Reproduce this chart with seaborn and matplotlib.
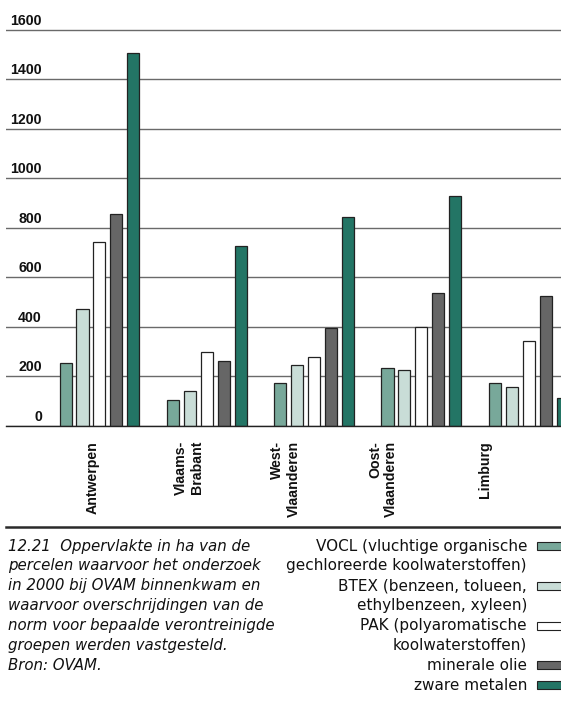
import matplotlib
matplotlib.use("Agg")
import matplotlib.pyplot as plt
import seaborn as sns
import pandas as pd
from matplotlib.transforms import blended_transform_factory, offset_copy
from matplotlib.patches import Rectangle
from matplotlib.lines import Line2D

# ---------------- data ----------------
regions = ["Antwerpen", "Vlaams-Brabant", "West-Vlaanderen", "Oost-Vlaanderen", "Limburg"]
region_labels = ["Antwerpen", "Vlaams-\nBrabant", "West-\nVlaanderen", "Oost-\nVlaanderen", "Limburg"]
vocl = [253, 105, 175, 233, 175]
btex = [471, 140, 245, 226, 159]
pak = [743, 298, 278, 401, 342]
minerale_olie = [855, 263, 397, 536, 525]
zware_metalen = [1505, 727, 843, 929, 112]
series_names = ["VOCL", "BTEX", "PAK", "minerale olie", "zware metalen"]
y_ticks = [0, 200, 400, 600, 800, 1000, 1200, 1400, 1600]
y_tick_labels = ["0", "200", "400", "600", "800", "1000", "1200", "1400", "1600"]
legend_texts = [
    ["VOCL (vluchtige organische", "gechloreerde koolwaterstoffen)"],
    ["BTEX (benzeen, tolueen,", "ethylbenzeen, xyleen)"],
    ["PAK (polyaromatische", "koolwaterstoffen)"],
    ["minerale olie"],
    ["zware metalen"],
]
caption_lines = [
    "12.21  Oppervlakte in ha van de",
    "percelen waarvoor het onderzoek",
    "in 2000 bij OVAM binnenkwam en",
    "waarvoor overschrijdingen van de",
    "norm voor bepaalde verontreinigde",
    "groepen werden vastgesteld.",
    "Bron: OVAM.",
]

# ---------------- styles ----------------
colors = ["#78a89a", "#c9ddd7", "#ffffff", "#666666", "#237565"]
edge = "#222222"
label_x = [-0.065, 0.834, 1.733, 2.642, 3.592]

series_values = [vocl, btex, pak, minerale_olie, zware_metalen]
rows = []
for name, vals in zip(series_names, series_values):
    for r, v in zip(regions, vals):
        rows.append({"region": r, "series": name, "value": v})
df = pd.DataFrame(rows)

plt.rcParams["font.family"] = ["Liberation Sans", "DejaVu Sans"]

W, H = 561, 713
fig = plt.figure(figsize=(W / 100, H / 100), dpi=100)


def fx(px):
    return px / W


def fy(py):
    return 1 - py / H


ax = fig.add_axes([fx(6), fy(426), 1 - fx(6), fy(27.5) - fy(426)])
sns.barplot(data=df, x="region", y="value", hue="series", order=regions,
            hue_order=series_names, palette=colors, saturation=1,
            width=0.79, gap=0.29, edgecolor=edge, linewidth=0.9,
            errorbar=None, legend=False, ax=ax)

ax.set_xlim(-0.871, 4.301)
ax.set_ylim(0, 1610)
ax.set_yticks(y_ticks)
ax.yaxis.grid(True, color="#6a6a6a", linewidth=1.0)
ax.xaxis.grid(False)
ax.set_axisbelow(True)
ax.tick_params(axis="y", length=0, labelleft=False)
for s in ["top", "right", "left"]:
    ax.spines[s].set_visible(False)
ax.spines["bottom"].set_color("#222222")
ax.spines["bottom"].set_linewidth(1.0)
ax.set_xlabel("")
ax.set_ylabel("")

trans = offset_copy(blended_transform_factory(ax.transAxes, ax.transData),
                    fig=fig, x=0, y=5, units="dots")
for v, lab in zip(y_ticks, y_tick_labels):
    ax.text((42 - 6) / 555, v, lab, ha="right", va="baseline", transform=trans,
            fontweight="bold", fontsize=10.2, color="#111111", clip_on=False)

ax.set_xticks(label_x, region_labels, rotation=90, fontweight="bold", fontsize=10.2,
              va="top", ha="center", multialignment="right", color="#111111")
ax.tick_params(axis="x", length=0, pad=10.8)

fig.add_artist(Line2D([fx(6), 1], [fy(527), fy(527)], color="#2a2a2a", lw=1.8,
                      transform=fig.transFigure))

line_y0, line_dy = 546, 19.9
for k, line in enumerate(caption_lines):
    fig.text(fx(8), fy(line_y0 + line_dy * k), line, ha="left", va="center",
             fontstyle="italic", fontsize=10.8, family="DejaVu Sans", color="#111111")

k = 0
for color, lines in zip(colors, legend_texts):
    yc = line_y0 + line_dy * k
    fig.add_artist(Rectangle((fx(537), fy(yc + 4)), fx(30), 8 / H,
                             facecolor=color, edgecolor=edge, lw=0.8,
                             transform=fig.transFigure))
    for ln in lines:
        fig.text(fx(527), fy(line_y0 + line_dy * k), ln, ha="right", va="center",
                 fontsize=11, family="DejaVu Sans", color="#111111")
        k += 1

fig.savefig("out.png", dpi=100)
